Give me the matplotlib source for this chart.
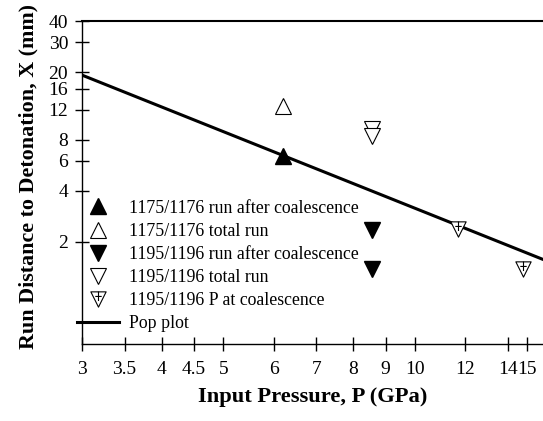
import numpy as np
import matplotlib
matplotlib.use("Agg")
import matplotlib.pyplot as plt
from matplotlib.path import Path
from matplotlib.ticker import FixedLocator, FixedFormatter, NullLocator

plt.rcParams.update({'font.family': 'serif', 'font.serif': ['Liberation Serif'],
                     'font.size': 13, 'mathtext.fontset': 'stix'})

# values (P in GPa, X in mm)
p_1175_after = [6.2]
x_1175_after = [6.45]
p_1175_total = [6.2]
x_1175_total = [12.7]
p_1195_after = [8.55, 8.55]
x_1195_after = [2.35, 1.38]
p_1195_total = [8.55, 8.55]
x_1195_total = [9.3, 8.4]
p_1195_coal = [11.7, 14.8]
x_1195_coal = [2.37, 1.38]
pop_p = [3.0, 16.0]
pop_x = [19.2, 1.56]

x_ticks = [3, 3.5, 4, 4.5, 5, 6, 7, 8, 9, 10, 12, 14, 15]
x_tick_labels = ['3', '3.5', '4', '4.5', '5', '6', '7', '8', '9', '10', '12', '14', '15']
y_ticks = [2, 4, 6, 8, 12, 16, 20, 30, 40]
y_tick_labels = ['2', '4', '6', '8', '12', '16', '20', '30', '40']

# down triangle with a plus sign inside (marker for P at coalescence)
tri_plus = Path([(-1, 1), (1, 1), (0, -1), (-1, 1),
                 (0, 1), (0, -0.2),
                 (-0.42, 0.4), (0.42, 0.4)],
                [Path.MOVETO, Path.LINETO, Path.LINETO, Path.CLOSEPOLY,
                 Path.MOVETO, Path.LINETO,
                 Path.MOVETO, Path.LINETO])

fig = plt.figure(figsize=(5.43, 4.21), dpi=100)
ax = fig.add_axes([82 / 543, 1 - 344 / 421, 461 / 543, 323 / 421])

ms = 11
ax.plot(p_1175_after, x_1175_after, ls='none', marker='^', ms=ms, mfc='black', mec='black',
        label='1175/1176 run after coalescence', zorder=3)
ax.plot(p_1175_total, x_1175_total, ls='none', marker='^', ms=ms, mfc='white', mec='black', mew=0.8,
        label='1175/1176 total run', zorder=3)
ax.plot(p_1195_after, x_1195_after, ls='none', marker='v', ms=ms, mfc='black', mec='black',
        label='1195/1196 run after coalescence', zorder=3)
ax.plot(p_1195_total, x_1195_total, ls='none', marker='v', ms=ms, mfc='white', mec='black', mew=0.8,
        label='1195/1196 total run', zorder=3)
ax.plot(p_1195_coal, x_1195_coal, ls='none', marker=tri_plus, ms=ms, mfc='white', mec='black', mew=0.8,
        label='1195/1196 P at coalescence', zorder=3)
ax.plot(pop_p, pop_x, color='black', lw=2.2, label='Pop plot', zorder=2)

ax.set_xscale('log')
ax.set_yscale('log')
ax.set_xlim(3, 15.9)
ax.set_ylim(0.5, 40)

ax.xaxis.set_major_locator(FixedLocator(x_ticks))
ax.xaxis.set_major_formatter(FixedFormatter(x_tick_labels))
ax.xaxis.set_minor_locator(NullLocator())
ax.yaxis.set_major_locator(FixedLocator(y_ticks))
ax.yaxis.set_major_formatter(FixedFormatter(y_tick_labels))
ax.yaxis.set_minor_locator(NullLocator())
ax.tick_params(direction='inout', length=10, width=1, labelsize=14, pad=5)
ax.tick_params(axis='x', pad=7)

ax.spines['right'].set_visible(False)
for s in ['left', 'bottom', 'top']:
    ax.spines[s].set_linewidth(1)
ax.spines['top'].set_linewidth(1.5)

ax.set_xlabel('Input Pressure, P (GPa)', fontsize=16.2, fontweight='bold')
ax.set_ylabel('Run Distance to Detonation, X (mm)', fontsize=15.8, fontweight='bold')
ax.xaxis.set_label_coords(0.501, -0.133)
ax.yaxis.set_label_coords(-0.095, 0.518)

ax.legend(loc='center left', bbox_to_anchor=(77 / 543, 1 - 266 / 421), bbox_transform=fig.transFigure,
          frameon=False, fontsize=12.75, borderpad=0, borderaxespad=0, handlelength=2.35,
          handletextpad=0.6, labelspacing=0.35)

fig.savefig('out.png', dpi=100)
